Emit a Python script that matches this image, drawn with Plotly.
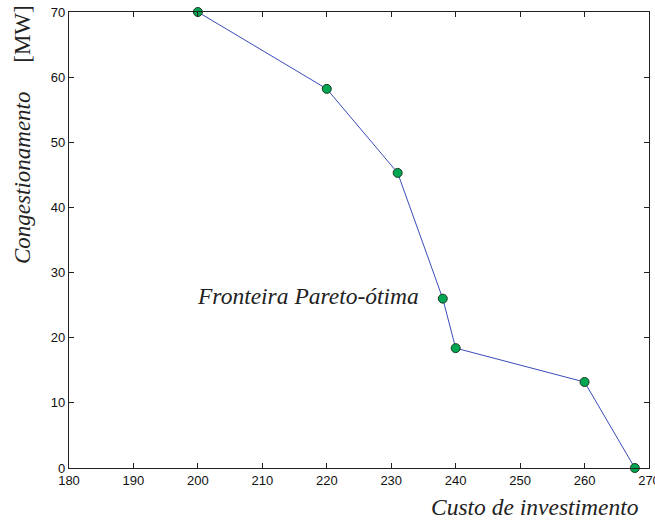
import plotly.graph_objects as go

# Pareto front: investment cost vs. congestion
custo = [200, 220, 231, 238, 240, 260, 267.8]
congestionamento = [70, 58.2, 45.3, 26.0, 18.4, 13.2, 0]

x_ticks = [180, 190, 200, 210, 220, 230, 240, 250, 260, 270]
y_ticks = [0, 10, 20, 30, 40, 50, 60, 70]

fig = go.Figure()
fig.add_trace(go.Scatter(
    x=custo, y=congestionamento,
    mode="lines+markers",
    line=dict(color="#3a4bb8", width=1),
    marker=dict(color="#00a651", size=9, line=dict(color="#1a3a22", width=1)),
    cliponaxis=False,
    showlegend=False,
))

axis_common = dict(
    showgrid=False, zeroline=False,
    showline=True, linecolor="#222222", linewidth=1.3,
    mirror="ticks", ticks="inside", ticklen=5, tickcolor="#222222",
    tickfont=dict(family="Liberation Sans", size=13, color="#111111"),
    ticklabeloverflow="allow", automargin=False,
)

fig.update_xaxes(range=[180, 270], tickvals=x_ticks, **axis_common)
fig.update_yaxes(range=[0, 70], tickvals=y_ticks, **axis_common)

serif = "Liberation Serif"
fig.add_annotation(
    x=199.6, y=26.4, xref="x", yref="y",
    text="<i>Fronteira Pareto-ótima</i>", showarrow=False,
    xanchor="left", yanchor="middle",
    font=dict(family=serif, size=23.5, color="#222222"),
)
fig.add_annotation(
    x=641, y=507, xref="paper", yref="paper",
    text="<i>Custo de investimento</i>", showarrow=False,
    xanchor="right", yanchor="middle",
    font=dict(family=serif, size=23.5, color="#222222"),
)
fig.add_annotation(
    x=22, y=135, xref="paper", yref="paper",
    text="<i>Congestionamento</i>" + "\u00a0" * 5 + "[MW]", showarrow=False,
    textangle=-90, xanchor="center", yanchor="middle",
    font=dict(family=serif, size=23, color="#222222"),
)

# convert pixel positions for the paper-anchored titles
W, H = 655, 522
ml, mr, mt, mb = 69, 6, 12, 54
pw, ph = W - ml - mr, H - mt - mb
for ann in fig.layout.annotations:
    if ann.xref == "paper":
        ann.x = (ann.x - ml) / pw
        ann.y = (H - mb - ann.y) / ph

fig.update_layout(
    width=W, height=H,
    margin=dict(l=ml, r=mr, t=mt, b=mb, autoexpand=False),
    plot_bgcolor="white", paper_bgcolor="white",
)

fig.write_html("out.html")
